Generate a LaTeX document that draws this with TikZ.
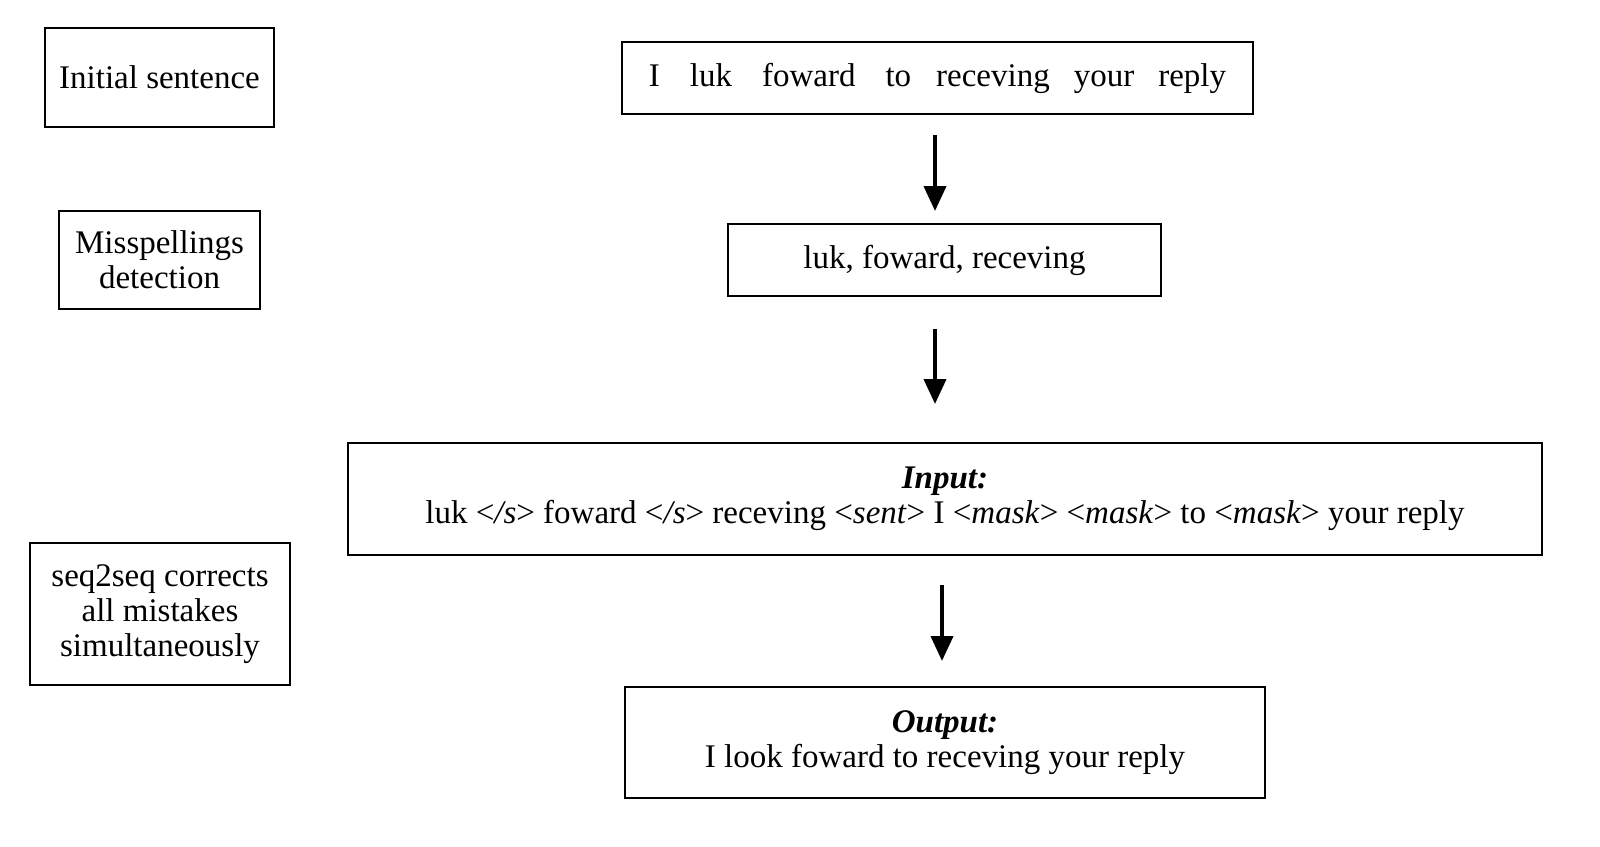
\documentclass[tikz,border=0pt]{standalone}
\usepackage{fontspec}
\setmainfont{Liberation Serif}
\usetikzlibrary{arrows.meta}
\begin{document}
\begin{tikzpicture}[x=0.5pt,y=-0.5pt,
  box/.style={draw=black,line width=1pt,inner sep=0pt,align=center,
    font=\fontsize{16.5}{17.5}\selectfont},
  arr/.style={line width=2pt,-{Triangle[length=12.5pt,width=11pt]}}]
\useasboundingbox (0,0) rectangle (1600,846);
% left labels
\node[box,minimum width=114.5pt,minimum height=49.5pt] (l1) at (159.5,77.5) {Initial sentence};
\node[box,minimum width=100.5pt,minimum height=49pt] (l2) at (159.5,260) {Misspellings\\detection};
\node[box,minimum width=130pt,minimum height=71pt] (l3) at (160,614) {seq2seq corrects\\all mistakes\\simultaneously};
% main flow
\node[box,minimum width=315.5pt,minimum height=36pt] (top) at (937.5,78)
  {I\hspace{15pt}luk\hspace{15pt}foward\hspace{15pt}to\hspace{12.5pt}receving\hspace{12pt}your\hspace{12pt}reply};
\node[box,minimum width=216.5pt,minimum height=36pt] (det) at (944.5,260) {luk, foward, receving};
\node[box,minimum width=597pt,minimum height=56pt] (inp) at (945,499)
  {\textbf{\textit{Input:}}\\luk <\textit{/s}> foward <\textit{/s}> receving <\textit{sent}> I <\textit{mask}> <\textit{mask}> to <\textit{mask}> your reply};
\node[box,minimum width=320pt,minimum height=55.5pt] (out) at (945,742.5)
  {\textbf{\textit{Output:}}\\I look foward to receving your reply};
% arrows
\draw[arr] ([xshift=-1.25pt,yshift=-10pt]top.south) -- ([xshift=-4.75pt,yshift=6pt]det.north);
\draw[arr] ([xshift=-4.75pt,yshift=-16pt]det.south) -- ([xshift=-5pt,yshift=19pt]inp.north);
\draw[arr] ([xshift=-1.5pt,yshift=-14.5pt]inp.south) -- ([xshift=-1.5pt,yshift=12.5pt]out.north);
\end{tikzpicture}
\end{document}
